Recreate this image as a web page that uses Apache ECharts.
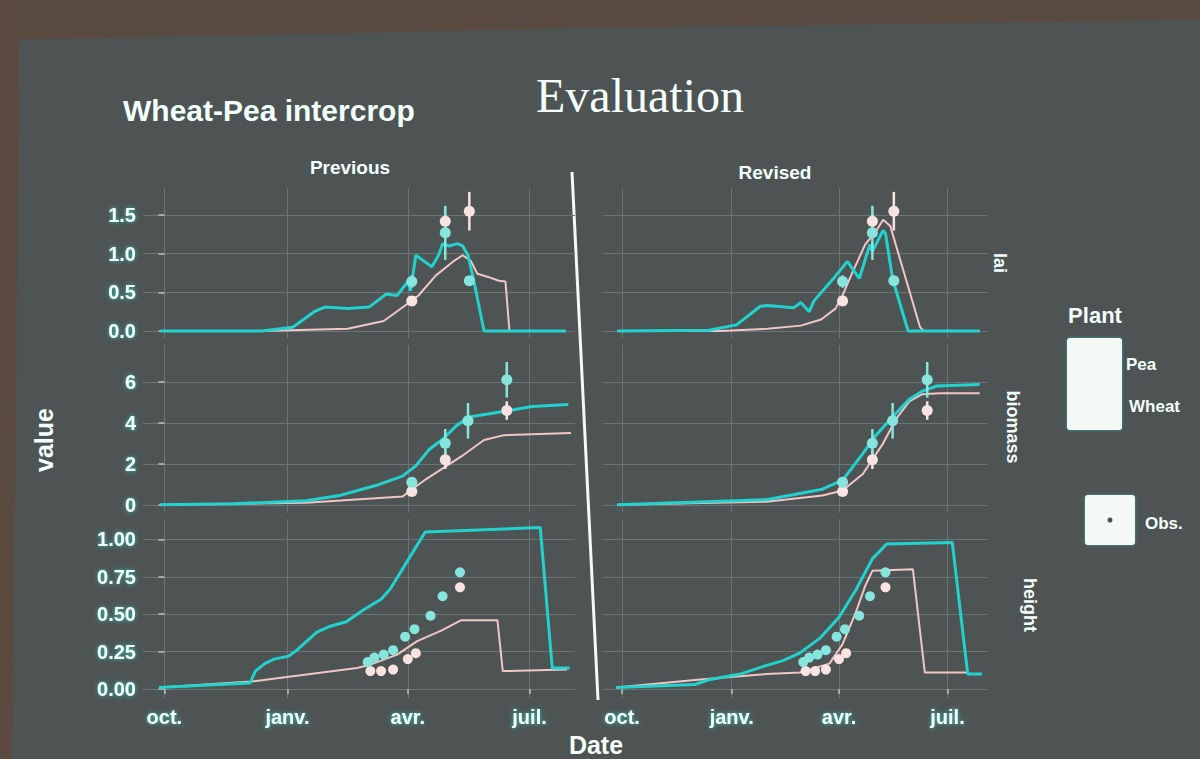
<!DOCTYPE html>
<html>
<head>
<meta charset="utf-8">
<title>Evaluation</title>
<script src="https://cdn.jsdelivr.net/npm/echarts@6/dist/echarts.min.js"></script>
<style>
  html, body { margin: 0; padding: 0; background: #4e5453; }
  #chart { width: 1200px; height: 759px; }
</style>
</head>
<body>
<div id="chart"></div>
<script>
// days counted from 1 October
const monthTicks = [0, 92, 182, 273]
const monthLabels = ['oct.', 'janv.', 'avr.', 'juil.']
const laiTicks = [0, 0.5, 1, 1.5]
const biomassTicks = [0, 2, 4, 6]
const heightTicks = [0, 0.25, 0.5, 0.75, 1]
const rowNames = ['lai', 'biomass', 'height']
const colNames = ['Previous', 'Revised']

// simulated lines [day, value]
const laiPrevPea = [[-3, 0], [73, 0], [96, 0.05], [112, 0.25], [120, 0.31], [137, 0.29], [153, 0.31], [166, 0.48], [174, 0.46], [182, 0.64], [184, 0.52], [188, 0.98], [200, 0.83], [205, 0.98], [208, 1.13], [213, 1.1], [219, 1.13], [223, 1.1], [227, 0.98], [231, 0.68], [239, 0], [300, 0]]
const laiPrevWheat = [[-3, 0], [73, 0], [137, 0.03], [164, 0.13], [180, 0.33], [190, 0.46], [203, 0.72], [216, 0.9], [223, 0.98], [229, 0.91], [234, 0.74], [242, 0.7], [250, 0.65], [255, 0.64], [258, 0], [300, 0]]
const laiRevPea = [[-4, 0], [73, 0.01], [96, 0.08], [116, 0.32], [122, 0.33], [144, 0.3], [150, 0.37], [157, 0.25], [161, 0.39], [179, 0.71], [189, 0.9], [199, 0.68], [208, 1.12], [210, 1.03], [219, 1.3], [221, 1.26], [227, 0.67], [240, 0], [300, 0]]
const laiRevWheat = [[-4, 0], [82, 0], [122, 0.03], [150, 0.07], [167, 0.15], [179, 0.29], [184, 0.43], [193, 0.75], [204, 1.12], [213, 1.29], [219, 1.44], [225, 1.36], [250, 0.05], [253, 0], [300, 0]]

const biomassPrevPea = [[-3, 0], [52, 0.05], [106, 0.2], [132, 0.47], [158, 0.94], [178, 1.4], [188, 1.9], [198, 2.7], [208, 3.2], [219, 3.9], [229, 4.3], [258, 4.6], [275, 4.8], [302, 4.9]]
const biomassPrevWheat = [[-3, 0], [106, 0.1], [178, 0.4], [183, 0.65], [196, 1.27], [222, 2.36], [239, 3.16], [254, 3.4], [304, 3.5]]
const biomassRevPea = [[-4, 0], [121, 0.25], [140, 0.45], [168, 0.76], [185, 1.2], [202, 2.5], [213, 3.4], [227, 4.3], [241, 5.15], [252, 5.55], [264, 5.8], [300, 5.87]]
const biomassRevWheat = [[-4, 0], [121, 0.15], [168, 0.45], [185, 0.7], [202, 1.5], [219, 3.0], [230, 4.2], [241, 5.05], [252, 5.4], [266, 5.45], [300, 5.45]]

const heightPrevPea = [[-4, 0.01], [64, 0.04], [68, 0.12], [75, 0.17], [82, 0.2], [93, 0.22], [99, 0.26], [114, 0.38], [124, 0.42], [136, 0.45], [149, 0.53], [162, 0.6], [169, 0.67], [182, 0.86], [195, 1.05], [281, 1.08], [290, 0.14], [303, 0.14]]
const heightPrevWheat = [[-4, 0.01], [65, 0.05], [144, 0.14], [153, 0.16], [174, 0.23], [189, 0.32], [207, 0.39], [222, 0.46], [249, 0.46], [253, 0.12], [301, 0.13]]
const heightRevPea = [[-5, 0.01], [61, 0.03], [72, 0.06], [99, 0.1], [122, 0.16], [135, 0.19], [149, 0.24], [166, 0.34], [182, 0.48], [196, 0.66], [210, 0.87], [222, 0.97], [277, 0.98], [290, 0.1], [302, 0.1]]
const heightRevWheat = [[-5, 0.01], [61, 0.06], [121, 0.1], [149, 0.11], [174, 0.17], [185, 0.3], [196, 0.51], [204, 0.69], [210, 0.79], [244, 0.8], [254, 0.11], [290, 0.11]]

// observations [day, value, error]
const laiObsPea = [[185, 0.64, 0.08], [210, 1.27, 0.35], [228, 0.65, 0.06]]
const laiObsWheat = [[185, 0.39, 0.04], [210, 1.42, 0.1], [228, 1.55, 0.25]]
const biomassObsPea = [[185, 1.1, 0.25], [210, 3.0, 0.7], [227, 4.1, 0.87], [256, 6.1, 0.87]]
const biomassObsWheat = [[185, 0.65, 0.2], [210, 2.2, 0.45], [256, 4.6, 0.45]]
const heightObsPea = [[152, 0.18], [157, 0.21], [164, 0.23], [171, 0.26], [180, 0.35], [187, 0.4], [199, 0.49], [208, 0.62], [221, 0.78]]
const heightObsWheat = [[154, 0.12], [162, 0.12], [171, 0.13], [182, 0.2], [188, 0.24], [221, 0.68]]

const peaColor = '#22d2cf'
const wheatColor = '#f1c6c6'
const peaObsColor = '#86e6de'
const wheatObsColor = '#f8e2e2'
const gridColor = '#6a7473'

const glow = {
    color: '#f2fffd',
    fontWeight: 'bold',
    fontFamily: '"Liberation Sans", Arial, sans-serif',
    textShadowColor: 'rgba(40,215,200,0.85)',
    textShadowBlur: 4
}

const rows = [
    { top: 188, height: 150, min: -0.09, max: 1.85, ticks: laiTicks, fmt: v => v.toFixed(1) },
    { top: 345, height: 168, min: -0.4, max: 7.8, ticks: biomassTicks, fmt: v => String(v) },
    { top: 520, height: 178, min: -0.06, max: 1.13, ticks: heightTicks, fmt: v => v.toFixed(2) }
]
const cols = [{ left: 143, width: 432 }, { left: 603, width: 385 }]

const panels = [
    { pea: laiPrevPea, wheat: laiPrevWheat, obsPea: laiObsPea, obsWheat: laiObsWheat, err: true },
    { pea: laiRevPea, wheat: laiRevWheat, obsPea: laiObsPea, obsWheat: laiObsWheat, err: true },
    { pea: biomassPrevPea, wheat: biomassPrevWheat, obsPea: biomassObsPea, obsWheat: biomassObsWheat, err: true },
    { pea: biomassRevPea, wheat: biomassRevWheat, obsPea: biomassObsPea, obsWheat: biomassObsWheat, err: true },
    { pea: heightPrevPea, wheat: heightPrevWheat, obsPea: heightObsPea, obsWheat: heightObsWheat, err: false },
    { pea: heightRevPea, wheat: heightRevWheat, obsPea: heightObsPea, obsWheat: heightObsWheat, err: false }
]

const grids = []
const xAxes = []
const yAxes = []
const series = []

function errorBars (idx, data, color) {
    return {
        type: 'custom',
        xAxisIndex: idx,
        yAxisIndex: idx,
        data: data,
        z: 4,
        encode: { x: 0, y: 1 },
        renderItem (params, api) {
            const lo = api.coord([api.value(0), api.value(1) - api.value(2)])
            const hi = api.coord([api.value(0), api.value(1) + api.value(2)])
            return {
                type: 'line',
                shape: { x1: lo[0], y1: lo[1], x2: hi[0], y2: hi[1] },
                style: { stroke: color, lineWidth: 2.5 }
            }
        }
    }
}

for (let r = 0; r < 3; r++) {
    for (let c = 0; c < 2; c++) {
        const i = r * 2 + c
        const row = rows[r]
        grids.push({ left: cols[c].left, width: cols[c].width, top: row.top, height: row.height })
        xAxes.push({
            type: 'value',
            gridIndex: i,
            min: -16,
            max: 307,
            axisLine: { show: false },
            axisTick: { show: true, customValues: monthTicks, length: r === 2 ? 5 : 0, lineStyle: { color: '#b9c2c1', width: 1.5 } },
            axisLabel: {
                show: r === 2,
                customValues: monthTicks,
                margin: 9,
                fontSize: 20,
                ...glow,
                formatter: v => monthLabels[monthTicks.indexOf(v)]
            },
            splitLine: { show: true, lineStyle: { color: gridColor, width: 1 } }
        })
        yAxes.push({
            type: 'value',
            gridIndex: i,
            min: row.min,
            max: row.max,
            axisLine: { show: false },
            axisTick: { show: true, customValues: row.ticks, length: c === 0 ? 6 : 0, lineStyle: { color: '#b9c2c1', width: 1.5 } },
            axisLabel: { show: c === 0, customValues: row.ticks, margin: 7, fontSize: 20, ...glow, formatter: row.fmt },
            splitLine: { show: true, lineStyle: { color: gridColor, width: 1 } }
        })
        const p = panels[i]
        series.push({
            type: 'line', xAxisIndex: i, yAxisIndex: i, data: p.wheat, symbol: 'none', z: 2,
            lineStyle: { color: wheatColor, width: 2 }
        })
        series.push({
            type: 'line', xAxisIndex: i, yAxisIndex: i, data: p.pea, symbol: 'none', z: 3,
            lineStyle: { color: peaColor, width: 3 }
        })
        if (p.err) {
            series.push(errorBars(i, p.obsWheat, wheatObsColor))
            series.push(errorBars(i, p.obsPea, peaObsColor))
        }
        series.push({
            type: 'scatter', xAxisIndex: i, yAxisIndex: i, z: 5, symbolSize: r === 2 ? 10 : 11,
            data: p.obsWheat.map(d => [d[0], d[1]]), itemStyle: { color: wheatObsColor, opacity: 1 }
        })
        series.push({
            type: 'scatter', xAxisIndex: i, yAxisIndex: i, z: 6, symbolSize: r === 2 ? 10 : 11,
            data: p.obsPea.map(d => [d[0], d[1]]), itemStyle: { color: peaObsColor, opacity: 1 }
        })
    }
}

function label (text, x, y, size, extra) {
    return {
        type: 'text',
        x: x,
        y: y,
        rotation: (extra && extra.rotation) || 0,
        style: {
            text: text,
            fill: '#f2fffd',
            font: 'bold ' + size + 'px "Liberation Sans", Arial, sans-serif',
            textAlign: (extra && extra.align) || 'center',
            textVerticalAlign: 'middle',
            shadowColor: 'rgba(40,215,200,0.85)',
            shadowBlur: 4
        }
    }
}

const graphics = [
    // screen edges
    { type: 'polygon', shape: { points: [[0, 0], [1200, 0], [1200, 20], [600, 28], [0, 40]] }, style: { fill: '#5a4b42' }, z: -5 },
    { type: 'polygon', shape: { points: [[0, 0], [20, 0], [12, 759], [0, 759]] }, style: { fill: '#5b4a40' }, z: -5 },
    {
        type: 'text', x: 640, y: 95,
        style: {
            text: 'Evaluation', fill: '#f4fffd', font: '48px "Liberation Serif", "DejaVu Serif", serif',
            textAlign: 'center', textVerticalAlign: 'middle', shadowColor: 'rgba(40,215,200,0.6)', shadowBlur: 3
        }
    },
    label('Wheat-Pea intercrop', 123, 110, 30, { align: 'left' }),
    label(colNames[0], 350, 167, 19),
    label(colNames[1], 775, 172, 19),
    label(rowNames[0], 1000, 263, 18, { rotation: -Math.PI / 2 }),
    label(rowNames[1], 1013, 427, 18, { rotation: -Math.PI / 2 }),
    label(rowNames[2], 1030, 605, 18, { rotation: -Math.PI / 2 }),
    label('value', 44, 440, 25, { rotation: Math.PI / 2 }),
    label('Date', 596, 745, 25),
    // divider between the two columns
    { type: 'line', shape: { x1: 572, y1: 172, x2: 598, y2: 700 }, style: { stroke: '#f4f8f7', lineWidth: 3 } },
    // legend
    label('Plant', 1095, 315, 22),
    { type: 'rect', shape: { x: 1067, y: 338, width: 55, height: 92, r: 3 }, style: { fill: '#f4f8f7', shadowColor: 'rgba(40,215,200,0.6)', shadowBlur: 3 } },
    label('Pea', 1126, 364, 17, { align: 'left' }),
    label('Wheat', 1129, 406, 17, { align: 'left' }),
    { type: 'rect', shape: { x: 1085, y: 495, width: 50, height: 50, r: 3 }, style: { fill: '#f4f8f7', shadowColor: 'rgba(40,215,200,0.6)', shadowBlur: 3 } },
    { type: 'circle', shape: { cx: 1110, cy: 520, r: 2.5 }, style: { fill: '#4a4f4e' } },
    label('Obs.', 1145, 523, 17, { align: 'left' })
]

const chart = echarts.init(document.getElementById('chart'), null, { renderer: 'svg' })
chart.setOption({
    animation: false,
    backgroundColor: '#4e5453',
    grid: grids,
    xAxis: xAxes,
    yAxis: yAxes,
    series: series,
    graphic: graphics
})
</script>
</body>
</html>
